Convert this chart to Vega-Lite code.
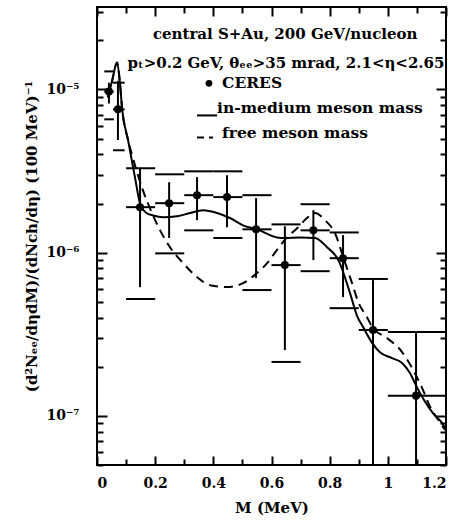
{
  "$schema": "https://vega.github.io/schema/vega-lite/v6.json",
  "width": 349,
  "height": 458,
  "autosize": "none",
  "padding": {"left": 97, "top": 7, "right": 18, "bottom": 58},
  "background": "white",
  "config": {
    "view": {"stroke": "black", "strokeWidth": 2},
    "font": "DejaVu Serif",
    "axis": {"grid": false, "domain": false, "labelColor": "black", "titleColor": "black", "labelFont": "DejaVu Serif", "titleFont": "DejaVu Serif", "labelFontWeight": "bold", "titleFontWeight": "bold", "labelFontSize": 14, "titleFontSize": 15}
  },
  "datasets": {
    "pts": [
      {"M": 0.041, "blo": 0.025, "bhi": 0.058, "y": 9.7e-6, "slo": 8.2e-6, "shi": 1.1e-5, "ylo": 6.56e-6, "yhi": 1.29e-5},
      {"M": 0.072, "blo": 0.055, "bhi": 0.095, "y": 7.55e-6, "slo": 4.9e-6, "shi": 1.13e-5, "ylo": 4.24e-6, "yhi": 1.1e-5},
      {"M": 0.148, "blo": 0.1, "bhi": 0.2, "y": 1.9e-6, "slo": 6.15e-7, "shi": 3.29e-6, "ylo": 5.2e-7, "yhi": 3.29e-6},
      {"M": 0.248, "blo": 0.2, "bhi": 0.3, "y": 2.01e-6, "slo": 1.23e-6, "shi": 2.7e-6, "ylo": 9.9e-7, "yhi": 3.02e-6},
      {"M": 0.344, "blo": 0.3, "bhi": 0.4, "y": 2.25e-6, "slo": 1.58e-6, "shi": 2.9e-6, "ylo": 1.37e-6, "yhi": 3.15e-6},
      {"M": 0.447, "blo": 0.4, "bhi": 0.5, "y": 2.19e-6, "slo": 1.43e-6, "shi": 2.98e-6, "ylo": 1.23e-6, "yhi": 3.15e-6},
      {"M": 0.547, "blo": 0.5, "bhi": 0.6, "y": 1.39e-6, "slo": 6.98e-7, "shi": 2.16e-6, "ylo": 5.9e-7, "yhi": 2.25e-6},
      {"M": 0.646, "blo": 0.6, "bhi": 0.7, "y": 8.39e-7, "slo": 2.53e-7, "shi": 1.45e-6, "ylo": 2.14e-7, "yhi": 1.49e-6},
      {"M": 0.744, "blo": 0.7, "bhi": 0.8, "y": 1.37e-6, "slo": 9.0e-7, "shi": 1.82e-6, "ylo": 7.7e-7, "yhi": 1.98e-6},
      {"M": 0.846, "blo": 0.8, "bhi": 0.9, "y": 9.25e-7, "slo": 5.34e-7, "shi": 1.28e-6, "ylo": 4.57e-7, "yhi": 1.33e-6},
      {"M": 0.949, "blo": 0.9, "bhi": 1.0, "y": 3.36e-7, "slo": 5e-8, "shi": 6.79e-7, "ylo": null, "yhi": 6.9e-7},
      {"M": 1.097, "blo": 1.0, "bhi": 1.2, "y": 1.33e-7, "slo": 5e-8, "shi": 3.22e-7, "ylo": null, "yhi": 3.27e-7}
    ],
    "curves": [
      {"model": "in-medium", "M": 0.038, "v": 8.93e-6},
      {"model": "in-medium", "M": 0.052, "v": 1.13e-5},
      {"model": "in-medium", "M": 0.069, "v": 1.46e-5},
      {"model": "in-medium", "M": 0.079, "v": 1.09e-5},
      {"model": "in-medium", "M": 0.086, "v": 7.76e-6},
      {"model": "in-medium", "M": 0.107, "v": 4.88e-6},
      {"model": "in-medium", "M": 0.131, "v": 2.86e-6},
      {"model": "in-medium", "M": 0.148, "v": 2.0e-6},
      {"model": "in-medium", "M": 0.17, "v": 1.75e-6},
      {"model": "in-medium", "M": 0.193, "v": 1.69e-6},
      {"model": "in-medium", "M": 0.227, "v": 1.65e-6},
      {"model": "in-medium", "M": 0.275, "v": 1.67e-6},
      {"model": "in-medium", "M": 0.32, "v": 1.75e-6},
      {"model": "in-medium", "M": 0.365, "v": 1.82e-6},
      {"model": "in-medium", "M": 0.413, "v": 1.75e-6},
      {"model": "in-medium", "M": 0.457, "v": 1.63e-6},
      {"model": "in-medium", "M": 0.502, "v": 1.47e-6},
      {"model": "in-medium", "M": 0.55, "v": 1.39e-6},
      {"model": "in-medium", "M": 0.619, "v": 1.24e-6},
      {"model": "in-medium", "M": 0.646, "v": 1.23e-6},
      {"model": "in-medium", "M": 0.698, "v": 1.24e-6},
      {"model": "in-medium", "M": 0.75, "v": 1.23e-6},
      {"model": "in-medium", "M": 0.791, "v": 1.08e-6},
      {"model": "in-medium", "M": 0.83, "v": 9.0e-7},
      {"model": "in-medium", "M": 0.87, "v": 5.65e-7},
      {"model": "in-medium", "M": 0.894, "v": 4.1e-7},
      {"model": "in-medium", "M": 0.915, "v": 3.5e-7},
      {"model": "in-medium", "M": 0.946, "v": 2.8e-7},
      {"model": "in-medium", "M": 0.973, "v": 2.45e-7},
      {"model": "in-medium", "M": 1.014, "v": 2.26e-7},
      {"model": "in-medium", "M": 1.049, "v": 2.11e-7},
      {"model": "in-medium", "M": 1.076, "v": 1.83e-7},
      {"model": "in-medium", "M": 1.1, "v": 1.5e-7},
      {"model": "in-medium", "M": 1.128, "v": 1.22e-7},
      {"model": "in-medium", "M": 1.155, "v": 1.04e-7},
      {"model": "in-medium", "M": 1.186, "v": 9.06e-8},
      {"model": "in-medium", "M": 1.2, "v": 8.2e-8},
      {"model": "free", "M": 0.038, "v": 8.93e-6},
      {"model": "free", "M": 0.052, "v": 1.13e-5},
      {"model": "free", "M": 0.069, "v": 1.46e-5},
      {"model": "free", "M": 0.079, "v": 1.09e-5},
      {"model": "free", "M": 0.086, "v": 7.76e-6},
      {"model": "free", "M": 0.107, "v": 4.88e-6},
      {"model": "free", "M": 0.12, "v": 4.0e-6},
      {"model": "free", "M": 0.158, "v": 2.41e-6},
      {"model": "free", "M": 0.189, "v": 1.75e-6},
      {"model": "free", "M": 0.217, "v": 1.37e-6},
      {"model": "free", "M": 0.251, "v": 1.08e-6},
      {"model": "free", "M": 0.296, "v": 8.63e-7},
      {"model": "free", "M": 0.344, "v": 7.08e-7},
      {"model": "free", "M": 0.389, "v": 6.32e-7},
      {"model": "free", "M": 0.447, "v": 6.15e-7},
      {"model": "free", "M": 0.502, "v": 6.5e-7},
      {"model": "free", "M": 0.55, "v": 7.5e-7},
      {"model": "free", "M": 0.585, "v": 8.63e-7},
      {"model": "free", "M": 0.619, "v": 1.04e-6},
      {"model": "free", "M": 0.653, "v": 1.24e-6},
      {"model": "free", "M": 0.688, "v": 1.41e-6},
      {"model": "free", "M": 0.722, "v": 1.63e-6},
      {"model": "free", "M": 0.75, "v": 1.75e-6},
      {"model": "free", "M": 0.784, "v": 1.58e-6},
      {"model": "free", "M": 0.818, "v": 1.32e-6},
      {"model": "free", "M": 0.85, "v": 9.0e-7},
      {"model": "free", "M": 0.877, "v": 6.5e-7},
      {"model": "free", "M": 0.898, "v": 5.0e-7},
      {"model": "free", "M": 0.928, "v": 4.03e-7},
      {"model": "free", "M": 0.949, "v": 3.45e-7},
      {"model": "free", "M": 0.997, "v": 3.0e-7},
      {"model": "free", "M": 1.049, "v": 2.46e-7},
      {"model": "free", "M": 1.087, "v": 1.91e-7},
      {"model": "free", "M": 1.118, "v": 1.48e-7},
      {"model": "free", "M": 1.145, "v": 1.14e-7},
      {"model": "free", "M": 1.173, "v": 9.46e-8},
      {"model": "free", "M": 1.197, "v": 8.2e-8}
    ],
    "headers": [
      {"M": 0.647, "v": 2.2e-5, "t": "central S+Au, 200 GeV/nucleon"},
      {"M": 0.65, "v": 1.46e-5, "t": "pₜ>0.2 GeV, θₑₑ>35 mrad, 2.1<η<2.65"}
    ],
    "keytext": [
      {"M": 0.43, "v": 1.09e-5, "t": "CERES"},
      {"M": 0.413, "v": 7.65e-6, "t": "in-medium meson mass"},
      {"M": 0.43, "v": 5.38e-6, "t": "free meson mass"}
    ],
    "keydot": [{"M": 0.385, "v": 1.09e-5}],
    "keylines": [
      {"model": "in-medium", "M": 0.344, "M2": 0.413, "v": 6.93e-6},
      {"model": "free", "M": 0.344, "M2": 0.399, "v": 5.08e-6}
    ]
  },
  "resolve": {"axis": {"x": "independent", "y": "independent"}},
  "layer": [
    {
      "data": {"name": "curves"},
      "transform": [{"filter": "datum.model === 'in-medium'"}],
      "mark": {"type": "line", "color": "black", "strokeWidth": 2, "clip": true, "interpolate": "monotone"},
      "encoding": {
        "x": {"field": "M", "type": "quantitative", "scale": {"domain": [0, 1.2], "nice": false, "zero": false},
          "axis": {"orient": "top", "labels": false, "title": null, "values": [0, 0.2, 0.4, 0.6, 0.8, 1.0, 1.2], "ticks": true, "tickSize": 9, "tickColor": "black", "tickWidth": 2, "offset": -9}},
        "y": {"field": "v", "type": "quantitative", "scale": {"type": "log", "domain": [5e-8, 3.2e-5], "nice": false},
          "axis": {"orient": "right", "labels": false, "title": null, "values": [1e-7, 1e-6, 1e-5], "ticks": true, "tickSize": 10, "tickColor": "black", "tickWidth": 2, "offset": -10}},
        "order": {"field": "M", "type": "quantitative"}
      }
    },
    {
      "data": {"name": "curves"},
      "transform": [{"filter": "datum.model === 'free'"}],
      "mark": {"type": "line", "color": "black", "strokeWidth": 2, "strokeDash": [9, 6], "clip": true, "interpolate": "monotone"},
      "encoding": {
        "x": {"field": "M", "type": "quantitative",
          "axis": {"orient": "top", "labels": false, "title": null, "values": [0.1, 0.3, 0.5, 0.7, 0.9, 1.1], "ticks": true, "tickSize": 6, "tickColor": "black", "tickWidth": 2, "offset": -6}},
        "y": {"field": "v", "type": "quantitative",
          "axis": {"orient": "right", "labels": false, "title": null, "ticks": true, "tickSize": 6, "tickColor": "black", "tickWidth": 2, "offset": -6,
            "values": [5e-8, 6e-8, 7e-8, 8e-8, 9e-8, 2e-7, 3e-7, 4e-7, 5e-7, 6e-7, 7e-7, 8e-7, 9e-7, 2e-6, 3e-6, 4e-6, 5e-6, 6e-6, 7e-6, 8e-6, 9e-6, 2e-5, 3e-5]}},
        "order": {"field": "M", "type": "quantitative"}
      }
    },
    {
      "data": {"name": "pts"},
      "mark": {"type": "rule", "color": "black", "strokeWidth": 2, "clip": true},
      "encoding": {
        "x": {"field": "M", "type": "quantitative",
          "axis": {"orient": "bottom", "labels": false, "title": null, "values": [0.1, 0.3, 0.5, 0.7, 0.9, 1.1], "ticks": true, "tickSize": 6, "tickColor": "black", "tickWidth": 2, "offset": -6}},
        "y": {"field": "slo", "type": "quantitative",
          "axis": {"orient": "left", "labels": false, "title": null, "ticks": true, "tickSize": 6, "tickColor": "black", "tickWidth": 2, "offset": -6,
            "values": [5e-8, 6e-8, 7e-8, 8e-8, 9e-8, 2e-7, 3e-7, 4e-7, 5e-7, 6e-7, 7e-7, 8e-7, 9e-7, 2e-6, 3e-6, 4e-6, 5e-6, 6e-6, 7e-6, 8e-6, 9e-6, 2e-5, 3e-5]}},
        "y2": {"field": "shi"}
      }
    },
    {
      "data": {"name": "pts"},
      "mark": {"type": "rule", "color": "black", "strokeWidth": 2, "clip": true},
      "encoding": {
        "x": {"field": "blo", "type": "quantitative", "axis": null},
        "x2": {"field": "bhi"},
        "y": {"field": "y", "type": "quantitative", "axis": null}
      }
    },
    {
      "data": {"name": "pts"},
      "mark": {"type": "rule", "color": "black", "strokeWidth": 2, "clip": true},
      "encoding": {
        "x": {"field": "blo", "type": "quantitative", "axis": null},
        "x2": {"field": "bhi"},
        "y": {"field": "yhi", "type": "quantitative", "axis": null}
      }
    },
    {
      "data": {"name": "pts"},
      "transform": [{"filter": "datum.ylo != null"}],
      "mark": {"type": "rule", "color": "black", "strokeWidth": 2, "clip": true},
      "encoding": {
        "x": {"field": "blo", "type": "quantitative", "axis": null},
        "x2": {"field": "bhi"},
        "y": {"field": "ylo", "type": "quantitative", "axis": null}
      }
    },
    {
      "data": {"name": "headers"},
      "mark": {"type": "text", "align": "center", "baseline": "middle", "font": "DejaVu Serif", "fontWeight": "bold", "fontSize": 15, "color": "black"},
      "encoding": {
        "x": {"field": "M", "type": "quantitative", "axis": null},
        "y": {"field": "v", "type": "quantitative", "axis": null},
        "text": {"field": "t"}
      }
    },
    {
      "data": {"name": "keytext"},
      "mark": {"type": "text", "align": "left", "baseline": "middle", "font": "DejaVu Serif", "fontWeight": "bold", "fontSize": 15.5, "color": "black"},
      "encoding": {
        "x": {"field": "M", "type": "quantitative", "axis": null},
        "y": {"field": "v", "type": "quantitative", "axis": null},
        "text": {"field": "t"}
      }
    },
    {
      "data": {"name": "keylines"},
      "transform": [{"filter": "datum.model === 'in-medium'"}],
      "mark": {"type": "rule", "color": "black", "strokeWidth": 2},
      "encoding": {
        "x": {"field": "M", "type": "quantitative", "axis": null},
        "x2": {"field": "M2"},
        "y": {"field": "v", "type": "quantitative", "axis": null}
      }
    },
    {
      "data": {"name": "keylines"},
      "transform": [{"filter": "datum.model === 'free'"}],
      "mark": {"type": "rule", "color": "black", "strokeWidth": 2, "strokeDash": [7, 5]},
      "encoding": {
        "x": {"field": "M", "type": "quantitative", "axis": null},
        "x2": {"field": "M2"},
        "y": {"field": "v", "type": "quantitative", "axis": null}
      }
    },
    {
      "data": {"name": "keydot"},
      "mark": {"type": "point", "shape": "circle", "filled": true, "color": "black", "opacity": 1, "size": 45},
      "encoding": {
        "x": {"field": "M", "type": "quantitative", "axis": null},
        "y": {"field": "v", "type": "quantitative", "axis": null}
      }
    },
    {
      "data": {"name": "pts"},
      "mark": {"type": "point", "shape": "circle", "filled": true, "color": "black", "opacity": 1, "size": 65, "clip": true},
      "encoding": {
        "x": {"field": "M", "type": "quantitative",
          "axis": {"orient": "bottom", "title": "M (MeV)", "titlePadding": 10, "labelPadding": 11, "format": "~g", "values": [0, 0.2, 0.4, 0.6, 0.8, 1.0, 1.2], "ticks": true, "tickSize": 9, "tickColor": "black", "tickWidth": 2, "offset": -9}},
        "y": {"field": "y", "type": "quantitative",
          "axis": {"orient": "left", "title": "(d²Nₑₑ/dηdM)/(dNch/dη)  (100 MeV)⁻¹", "titlePadding": 6, "labelPadding": 18,
            "values": [1e-7, 1e-6, 1e-5], "ticks": true, "tickSize": 10, "tickColor": "black", "tickWidth": 2, "offset": -10,
            "labelExpr": "datum.value === 1e-5 ? '10⁻⁵' : datum.value === 1e-6 ? '10⁻⁶' : '10⁻⁷'"}}
      }
    }
  ]
}
